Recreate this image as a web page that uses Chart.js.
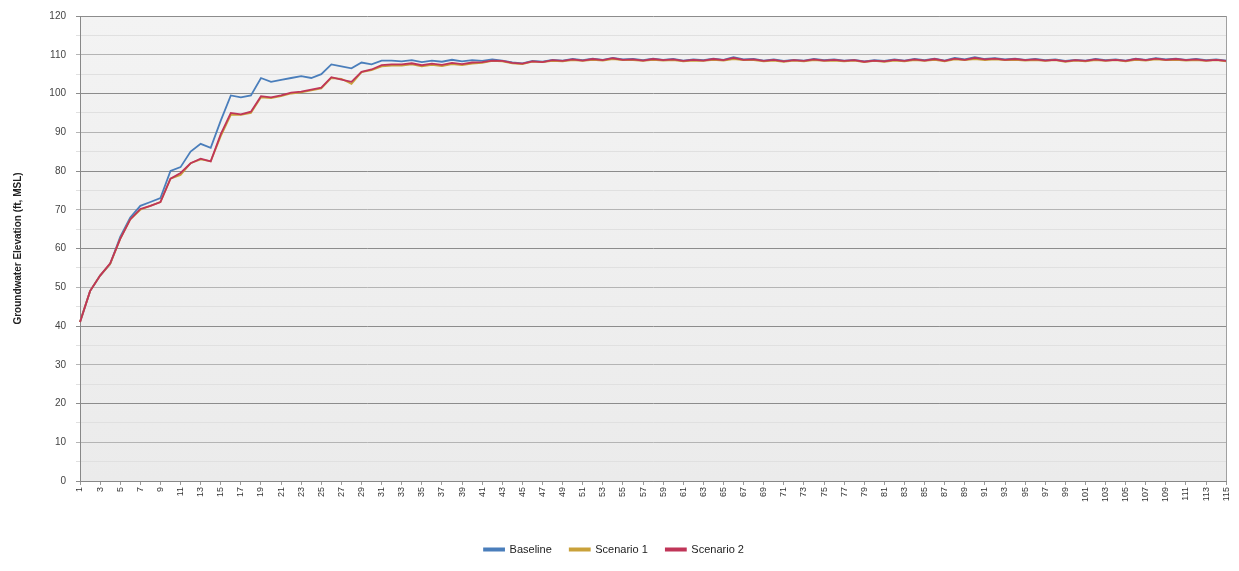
<!DOCTYPE html>
<html>
<head>
<meta charset="utf-8">
<script src="https://cdn.jsdelivr.net/npm/chart.js@4.4.1/dist/chart.umd.min.js"></script>
<style>
  html, body { margin: 0; padding: 0; background: #ffffff; }
  #wrap { width: 1239px; height: 571px; position: relative; }
</style>
</head>
<body>
<div id="wrap"><canvas id="c" width="1239" height="571"></canvas></div>
<script>
// ---- Data ----
const periods = [1,2,3,4,5,6,7,8,9,10,11,12,13,14,15,16,17,18,19,20,21,22,23,24,25,26,27,28,29,30,
  31,32,33,34,35,36,37,38,39,40,41,42,43,44,45,46,47,48,49,50,51,52,53,54,55,56,57,58,59,60,
  61,62,63,64,65,66,67,68,69,70,71,72,73,74,75,76,77,78,79,80,81,82,83,84,85,86,87,88,89,90,
  91,92,93,94,95,96,97,98,99,100,101,102,103,104,105,106,107,108,109,110,111,112,113,114,115];

const baseline = [41,49,53,56,63,68,71,72,73,80,81,85,87,86,93,99.5,99,99.5,104,103,103.5,104,104.5,104,105,107.5,107,106.5,108,107.5,108.5,108.5,
  108.3,108.6,108.1,108.5,108.2,108.7,108.3,108.6,108.4,108.8,
  108.5,108.0,107.8,108.4,108.2,108.7,108.5,108.9,108.6,109.0,
  108.7,109.2,108.8,108.9,108.6,109.0,108.7,108.9,108.5,108.8,
  108.6,109.0,108.7,109.4,108.8,108.9,108.5,108.8,108.4,108.7,
  108.5,108.9,108.6,108.8,108.5,108.7,108.3,108.6,108.4,108.8,
  108.5,108.9,108.6,109.0,108.5,109.2,108.8,109.4,108.9,109.1,
  108.8,109.0,108.7,108.9,108.6,108.8,108.4,108.7,108.5,108.9,
  108.6,108.8,108.5,109.0,108.7,109.1,108.8,109.0,108.7,108.9,
  108.6,108.8,108.5];

const scenario1 = [41,49,53,56,62.5,67.5,70,71,72,78,79,82,83,82.5,89,94.5,94.5,95,99,98.8,99.3,100,100.3,100.8,101.3,104,103.8,102.5,105.5,106,107,107.2,
  107.2,107.5,107.0,107.4,107.1,107.6,107.3,107.7,107.9,108.4,108.3,107.8,107.6,108.2,108.1,
  108.4,108.3,108.6,108.4,108.7,
  108.5,108.9,108.6,108.6,108.4,108.7,108.5,108.6,108.3,108.5,
  108.4,108.7,108.5,108.9,108.6,108.6,108.3,108.5,108.2,108.5,
  108.3,108.6,108.4,108.5,108.3,108.5,108.1,108.4,108.2,108.5,
  108.3,108.6,108.4,108.7,108.3,108.8,108.6,108.9,108.6,108.8,
  108.6,108.7,108.5,108.6,108.4,108.6,108.2,108.5,108.3,108.6,
  108.4,108.6,108.3,108.7,108.5,108.8,108.6,108.7,108.5,108.6,
  108.4,108.6,108.3];

const scenario2 = [41,49,53,56.2,62.5,67.5,70.2,71,72,78,79.5,82,83.2,82.5,89.5,95,94.6,95.3,99.3,99,99.5,100.2,100.5,101,101.5,104.2,103.6,103,105.6,106.2,107.3,107.5,
  107.5,107.8,107.3,107.7,107.4,107.9,107.6,108.0,108.1,108.5,108.4,107.9,107.7,108.3,108.1,
  108.6,108.4,108.8,108.5,108.9,
  108.6,109.1,108.7,108.8,108.5,108.9,108.6,108.8,108.4,108.7,
  108.5,108.9,108.6,109.2,108.7,108.8,108.4,108.7,108.3,108.6,
  108.4,108.8,108.5,108.7,108.4,108.6,108.2,108.5,108.3,108.7,
  108.4,108.8,108.5,108.9,108.4,109.0,108.7,109.2,108.8,109.0,
  108.7,108.9,108.6,108.8,108.5,108.7,108.3,108.6,108.4,108.8,
  108.5,108.7,108.4,108.9,108.6,109.0,108.7,108.9,108.6,108.8,
  108.5,108.7,108.4];

const seriesNames = ['Baseline', 'Scenario 1', 'Scenario 2'];
const yTitle = 'Groundwater Elevation (ft, MSL)';

// ---- Styling ----
const FONT = "'Liberation Sans', 'DejaVu Sans', sans-serif";
const colors = ['#4a7ebb', '#c9a13a', '#c03558'];

const plotBg = {
  id: 'plotBg',
  beforeDraw(chart) {
    const a = chart.chartArea, ctx = chart.ctx;
    const g = ctx.createLinearGradient(0, a.top, 0, a.bottom);
    g.addColorStop(0, '#f3f3f3');
    g.addColorStop(1, '#ebebeb');
    ctx.save();
    ctx.fillStyle = g;
    ctx.fillRect(a.left, a.top, a.right - a.left, a.bottom - a.top);
    ctx.restore();
  },
  afterDatasetsDraw(chart) {
    const a = chart.chartArea, ctx = chart.ctx;
    ctx.save();
    ctx.strokeStyle = '#a0a0a0';
    ctx.lineWidth = 1;
    ctx.beginPath();
    ctx.moveTo(Math.round(a.right) + 0.5, a.top);
    ctx.lineTo(Math.round(a.right) + 0.5, a.bottom);
    ctx.stroke();
    ctx.restore();
  }
};

const order = [2, 1, 0];
new Chart(document.getElementById('c'), {
  type: 'line',
  data: {
    labels: periods,
    datasets: [baseline, scenario1, scenario2].map((d, i) => ({
      label: seriesNames[i],
      data: d,
      borderColor: colors[i],
      backgroundColor: colors[i],
      borderWidth: 1.8,
      pointRadius: 0,
      tension: 0,
      order: order[i]
    }))
  },
  options: {
    responsive: false,
    animation: false,
    layout: { padding: { left: 0, right: 11, top: 12, bottom: 6 } },
    plugins: {
      tooltip: { enabled: false },
      legend: {
        position: 'bottom',
        labels: {
          font: { family: FONT, size: 11 },
          color: '#222',
          boxWidth: 20,
          boxHeight: 2,
          padding: 18,
          sort: (a, b) => a.datasetIndex - b.datasetIndex
        }
      }
    },
    scales: {
      x: {
        type: 'category',
        offset: false,
        afterFit(s) { s.height = 45; },
        border: { display: true, color: '#888', width: 1 },
        grid: { display: true, drawOnChartArea: false, drawTicks: true, tickLength: 4, color: '#999' },
        ticks: {
          autoSkip: false,
          minRotation: 90,
          maxRotation: 90,
          padding: 2,
          font: { family: FONT, size: 9 },
          color: '#333',
          callback(v, i) { return i % 2 === 0 ? String(periods[i]) : null; }
        }
      },
      y: {
        min: 0,
        max: 120,
        afterFit(s) { s.width = 80; },
        border: { display: true, color: '#888', width: 1 },
        title: {
          display: true,
          text: yTitle,
          font: { family: FONT, size: 10, weight: 'bold' },
          color: '#222',
          padding: { top: 12, bottom: 0 }
        },
        grid: {
          tickLength: 4,
          color(ctx) {
            const v = ctx.tick.value;
            if (v % 20 === 0) return '#8c8c8c';
            if (v % 10 === 0) return '#b4b4b4';
            return '#e0e0e0';
          },
          lineWidth: 1
        },
        ticks: {
          stepSize: 5,
          padding: 10,
          font: { family: FONT, size: 10 },
          color: '#444',
          callback(v) { return v % 10 === 0 ? String(v) : ''; }
        }
      }
    }
  },
  plugins: [plotBg]
});
</script>
</body>
</html>
